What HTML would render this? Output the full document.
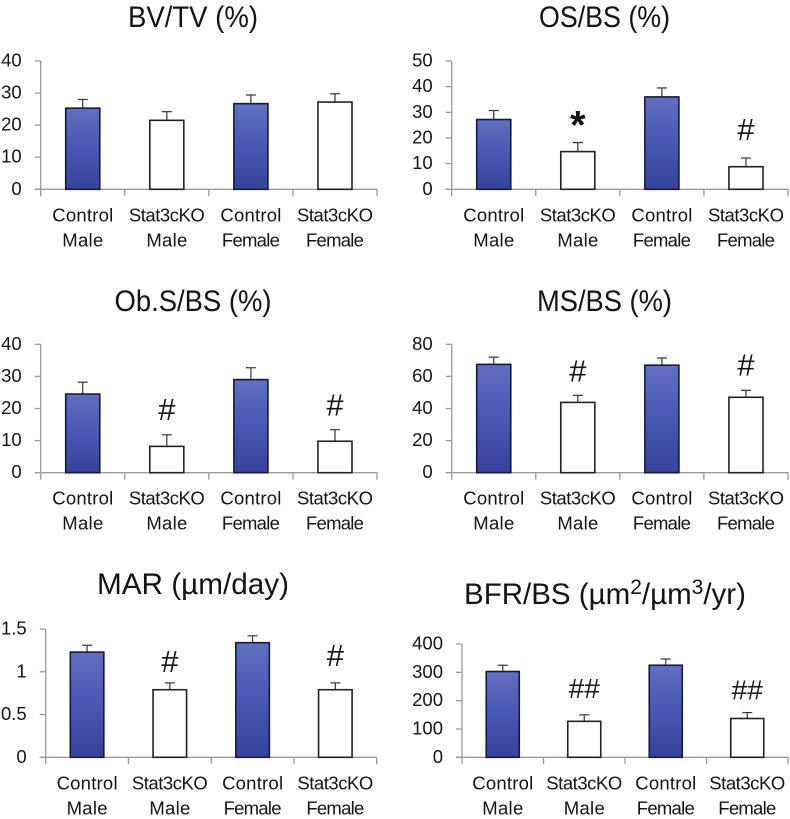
<!DOCTYPE html>
<html lang="en">
<head>
<meta charset="utf-8">
<title>Bone histomorphometry charts</title>
<style>
html,body{margin:0;padding:0;background:#fff;}
svg{display:block;}
text{font-family:"Liberation Sans",sans-serif;fill:#141414;}
</style>
</head>
<body>
<svg id="figure" width="790" height="819" viewBox="0 0 790 819" xmlns="http://www.w3.org/2000/svg">
<defs>
<linearGradient id="blueFill" x1="0" y1="0" x2="0" y2="1">
<stop offset="0" stop-color="#6170c0"/>
<stop offset="0.45" stop-color="#4a5ab6"/>
<stop offset="1" stop-color="#36439c"/>
</linearGradient>
</defs>
</svg>
<script>
const categoryLine1 = ["Control", "Stat3cKO", "Control", "Stat3cKO"];
const categoryLine2 = ["Male", "Male", "Female", "Female"];
const groupFilled = [true, false, true, false];

const bvtvValues = [25.3, 21.5, 26.7, 27.2];
const bvtvErrors = [2.7, 2.7, 2.7, 2.6];
const bvtvTicks = [0, 10, 20, 30, 40];
const bvtvMarkers = ["", "", "", ""];

const osbsValues = [27.2, 14.7, 36, 8.8];
const osbsErrors = [3.5, 3.5, 3.5, 3.4];
const osbsTicks = [0, 10, 20, 30, 40, 50];
const osbsMarkers = ["", "*", "", "#"];

const obsbsValues = [24.5, 8.2, 29, 9.8];
const obsbsErrors = [3.7, 3.6, 3.7, 3.6];
const obsbsTicks = [0, 10, 20, 30, 40];
const obsbsMarkers = ["", "#", "", "#"];

const msbsValues = [67.5, 43.8, 67, 47];
const msbsErrors = [4.5, 4.4, 4.5, 4.3];
const msbsTicks = [0, 20, 40, 60, 80];
const msbsMarkers = ["", "#", "", "#"];

const marValues = [1.23, 0.79, 1.34, 0.79];
const marErrors = [0.08, 0.08, 0.08, 0.08];
const marTicks = [0, 0.5, 1, 1.5];
const marMarkers = ["", "#", "", "#"];

const bfrValues = [303, 127, 325, 137];
const bfrErrors = [22, 23, 22, 21];
const bfrTicks = [0, 100, 200, 300, 400];
const bfrMarkers = ["", "##", "", "##"];

const panels = [
  {id:"bv-tv", title:"BV/TV (%)", cx:193, titleY:27, titleW:130, x0:40.7, x1:377, top:61, bottom:189.3, max:40, values:bvtvValues, errors:bvtvErrors, ticks:bvtvTicks, markers:bvtvMarkers, gaps:[0,0,0,0]},
  {id:"os-bs", title:"OS/BS (%)", cx:604.5, titleY:27, titleW:131, x0:451.7, x1:788, top:61, bottom:189.3, max:50, values:osbsValues, errors:osbsErrors, ticks:osbsTicks, markers:osbsMarkers, gaps:[0,4,0,18]},
  {id:"ob-s-bs", title:"Ob.S/BS (%)", cx:193, titleY:311, titleW:157, x0:40.7, x1:377, top:344.3, bottom:472.7, max:40, values:obsbsValues, errors:obsbsErrors, ticks:obsbsTicks, markers:obsbsMarkers, gaps:[0,15,0,14]},
  {id:"ms-bs", title:"MS/BS (%)", cx:604.5, titleY:311, titleW:135, x0:451.7, x1:788, top:344.3, bottom:472.7, max:80, values:msbsValues, errors:msbsErrors, ticks:msbsTicks, markers:msbsMarkers, gaps:[0,14,0,15]},
  {id:"mar", title:"MAR (µm/day)", cx:193, titleY:594, titleW:192, x0:45.7, x1:376.7, top:629, bottom:757.3, max:1.5, values:marValues, errors:marErrors, ticks:marTicks, markers:marMarkers, gaps:[0,11,0,17]},
  {id:"bfr-bs", title:"BFR/BS (µm", cx:605, titleY:604, titleW:0, x0:462, x1:788, top:644, bottom:757.3, max:400, values:bfrValues, errors:bfrErrors, ticks:bfrTicks, markers:bfrMarkers, gaps:[0,17,0,13]}
];

const SVG_NS = "http://www.w3.org/2000/svg";
const figure = document.getElementById("figure");

function make(parent, tag, attrs, content) {
  const node = document.createElementNS(SVG_NS, tag);
  for (const key in attrs) node.setAttribute(key, attrs[key]);
  if (content !== undefined) node.textContent = content;
  parent.appendChild(node);
  return node;
}

panels.forEach(function (p) {
  const bandWidth = (p.x1 - p.x0) / 4;
  const xCenter = function (i) { return p.x0 + bandWidth * (i + 0.5); };
  const yScale = function (v) { return p.bottom - (v / p.max) * (p.bottom - p.top); };
  const barWidth = bandWidth * 0.405;

  const g = make(figure, "g", {});
  
  

  let title;
  if (p.id === "bfr-bs") {
    title = make(g, "text", {x:p.cx, y:p.titleY, "text-anchor":"middle", "font-size":29.5});
    make(title, "tspan", {}, "BFR/BS (µm");
    make(title, "tspan", {"font-size":21, dy:-10}, "2");
    make(title, "tspan", {dy:10}, "/µm");
    make(title, "tspan", {"font-size":21, dy:-10}, "3");
    make(title, "tspan", {dy:10}, "/yr)");
  } else {
    title = make(g, "text", {x:p.cx, y:p.titleY, "text-anchor":"middle", "font-size":29.5, textLength:p.titleW, lengthAdjust:"spacingAndGlyphs"}, p.title);
  }
  
  

  const yAxis = make(g, "line", {x1:p.x0, x2:p.x0, y1:p.top, y2:p.bottom + 7, stroke:"#9a9a9a", "stroke-width":1.3});
  
  

  const xAxis = make(g, "line", {x1:p.x0 - 6, x2:p.x1, y1:p.bottom, y2:p.bottom, stroke:"#9a9a9a", "stroke-width":1.3});
  
  

  p.ticks.forEach(function (t) {
    const y = yScale(t);
    const tick = make(g, "line", {x1:p.x0 - 6, x2:p.x0, y1:y, y2:y, stroke:"#9a9a9a", "stroke-width":1.3});
    
    
    const label = make(g, "text", {x:p.x0 - 19, y:y + 5.5, "text-anchor":"end", "font-size":18.5}, String(t));
    
    
  });

  for (let i = 1; i <= 4; i++) {
    const tx = p.x0 + bandWidth * i;
    const xTick = make(g, "line", {x1:tx, x2:tx, y1:p.bottom, y2:p.bottom + 7, stroke:"#9a9a9a", "stroke-width":1.3});
    
    
  }

  p.values.forEach(function (v, i) {
    const cx = xCenter(i);
    const yTop = yScale(v);
    const errTop = yScale(v + p.errors[i]);

    const errorStem = make(g, "line", {x1:cx, x2:cx, y1:yTop, y2:errTop, stroke:"#333", "stroke-width":1.2});
    
    

    const errorCap = make(g, "line", {x1:cx - 5, x2:cx + 5, y1:errTop, y2:errTop, stroke:"#333", "stroke-width":1.2});
    
    

    const bar = make(g, "rect", {x:cx - barWidth / 2, y:yTop, width:barWidth, height:p.bottom - yTop,
      fill:groupFilled[i] ? "url(#blueFill)" : "#fff", stroke:groupFilled[i] ? "#161b3c" : "#222", "stroke-width":1.6});
    
    

    const line1 = make(g, "text", {x:cx, y:p.bottom + 32, "text-anchor":"middle", "font-size":18.5,
      textLength:categoryLine1[i] === "Control" ? 61 : 76, lengthAdjust:"spacing"}, categoryLine1[i]);
    
    

    const line2 = make(g, "text", {x:cx, y:p.bottom + 57, "text-anchor":"middle", "font-size":18.5,
      textLength:categoryLine2[i] === "Male" ? 41 : 58, lengthAdjust:"spacing"}, categoryLine2[i]);
    
    

    if (p.markers[i]) {
      const star = p.markers[i] === "*";
      const dbl = p.markers[i] === "##";
      const marker = make(g, "text", {x:cx, y:errTop - p.gaps[i], "text-anchor":"middle",
        "font-size":star ? 40 : (dbl ? 28 : 31), "font-weight":star ? "bold" : "normal", fill:"#111"}, p.markers[i]);
      
      
    }
  });
});
</script>
</body>
</html>
